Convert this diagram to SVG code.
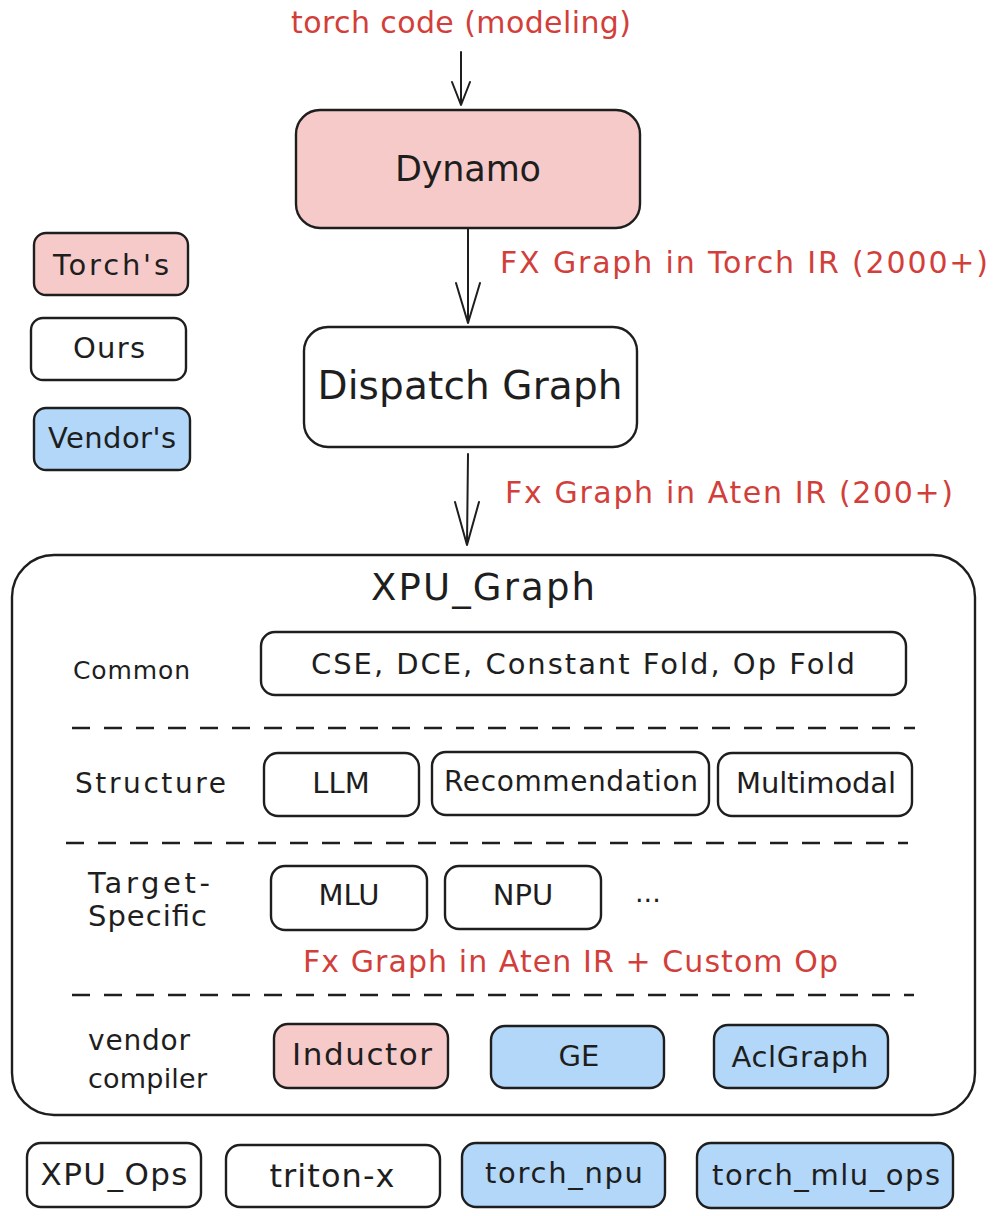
<svg xmlns="http://www.w3.org/2000/svg" width="998" height="1216" viewBox="0 0 998 1216">
<style>
.box{stroke:#1e1e1e;stroke-width:2.4;fill:#ffffff}
.pink{fill:#f7caca}
.blue{fill:#b2d7f9}
.t{font-family:"DejaVu Sans","Liberation Sans",sans-serif;fill:#1e1e1e}
.r{font-family:"DejaVu Sans","Liberation Sans",sans-serif;fill:#d23f3b}
.c{text-anchor:middle}
.ln{stroke:#1e1e1e;stroke-width:2;fill:none;stroke-linecap:round;stroke-linejoin:round}
.dash{stroke:#1e1e1e;stroke-width:2.5;fill:none;stroke-dasharray:18 14}
</style>
<rect width="998" height="1216" fill="#ffffff"/>

<text class="r" x="291" y="33" font-size="30" textLength="340">torch code (modeling)</text>

<g id="connectors">
  <path class="ln" d="M461,52 L461,104"/>
  <path class="ln" d="M452,82 L461,105 L470,82"/>
  <path class="ln" d="M468,229 L468,322"/>
  <path class="ln" d="M456,283 L468,323 L480,283"/>
  <path class="ln" d="M468,454 L467,544"/>
  <path class="ln" d="M455,502 L467,545 L479,502"/>
</g>
<text class="r" x="500" y="273" font-size="30" textLength="488">FX Graph in Torch IR (2000+)</text>
<text class="r" x="505" y="503" font-size="30" textLength="448">Fx Graph in Aten IR (200+)</text>

<g id="dynamo">
  <rect class="box pink" x="296" y="110" width="344" height="118" rx="24"/>
  <text class="t c" x="468" y="181" font-size="35" textLength="146">Dynamo</text>
</g>
<g id="dispatch-graph">
  <rect class="box" x="304" y="327" width="333" height="120" rx="24"/>
  <text class="t c" x="470" y="399" font-size="39" textLength="305">Dispatch Graph</text>
</g>

<g id="legend-torch">
  <rect class="box pink" x="34" y="233" width="154" height="62" rx="12"/>
  <text class="t c" x="111" y="275" font-size="29" textLength="116">Torch's</text>
</g>
<g id="legend-ours">
  <rect class="box" x="31" y="318" width="155" height="62" rx="12"/>
  <text class="t c" x="109" y="358" font-size="29" textLength="72">Ours</text>
</g>
<g id="legend-vendor">
  <rect class="box blue" x="34" y="408" width="156" height="62" rx="12"/>
  <text class="t c" x="112" y="448" font-size="29" textLength="128">Vendor's</text>
</g>

<g id="xpu-graph">
  <rect class="box" x="12" y="555" width="963" height="560" rx="42"/>
  <text class="t c" x="483" y="600" font-size="37" textLength="224">XPU_Graph</text>
</g>

<g id="layers">
  <text class="t" x="73" y="679" font-size="25" textLength="117">Common</text>
  <path class="dash" d="M72,728 L915,728"/>
  <text class="t" x="75" y="793" font-size="28" textLength="151">Structure</text>
  <path class="dash" d="M66,843 L908,843"/>
  <text class="t" x="88" y="893" font-size="29" textLength="122">Target-</text>
  <text class="t" x="88" y="926" font-size="29" textLength="119">Specific</text>
  <path class="dash" d="M72,995 L914,995"/>
  <text class="t" x="88" y="1050" font-size="28" textLength="102">vendor</text>
  <text class="t" x="88" y="1088" font-size="27" textLength="119">compiler</text>
</g>

<g id="common-passes">
  <rect class="box" x="261" y="632" width="645" height="63" rx="14"/>
  <text class="t c" x="583" y="674" font-size="29" textLength="544">CSE, DCE, Constant Fold, Op Fold</text>
</g>
<g id="llm">
  <rect class="box" x="264" y="753" width="155" height="63" rx="14"/>
  <text class="t c" x="341" y="793" font-size="29">LLM</text>
</g>
<g id="recommendation">
  <rect class="box" x="432" y="752" width="277" height="63" rx="14"/>
  <text class="t c" x="571" y="791" font-size="28" textLength="254">Recommendation</text>
</g>
<g id="multimodal">
  <rect class="box" x="718" y="753" width="194" height="63" rx="14"/>
  <text class="t c" x="816" y="793" font-size="29" textLength="160">Multimodal</text>
</g>
<g id="mlu">
  <rect class="box" x="271" y="866" width="156" height="64" rx="14"/>
  <text class="t c" x="349" y="905" font-size="29">MLU</text>
</g>
<g id="npu">
  <rect class="box" x="445" y="866" width="156" height="63" rx="14"/>
  <text class="t c" x="523" y="905" font-size="29">NPU</text>
</g>
<text class="t" x="635" y="902" font-size="27">...</text>
<text class="r" x="303" y="972" font-size="30" textLength="535">Fx Graph in Aten IR + Custom Op</text>

<g id="inductor">
  <rect class="box pink" x="274" y="1024" width="174" height="64" rx="14"/>
  <text class="t c" x="362" y="1065" font-size="31" textLength="140">Inductor</text>
</g>
<g id="ge">
  <rect class="box blue" x="491" y="1026" width="173" height="62" rx="14"/>
  <text class="t c" x="579" y="1066" font-size="29">GE</text>
</g>
<g id="aclgraph">
  <rect class="box blue" x="714" y="1025" width="174" height="63" rx="14"/>
  <text class="t c" x="800" y="1067" font-size="29" textLength="137">AclGraph</text>
</g>

<g id="xpu-ops">
  <rect class="box" x="27" y="1143" width="174" height="64" rx="14"/>
  <text class="t c" x="114" y="1185" font-size="31" textLength="147">XPU_Ops</text>
</g>
<g id="triton-x">
  <rect class="box" x="226" y="1145" width="214" height="62" rx="14"/>
  <text class="t c" x="332" y="1187" font-size="32" textLength="125">triton-x</text>
</g>
<g id="torch-npu">
  <rect class="box blue" x="462" y="1143" width="203" height="64" rx="14"/>
  <text class="t c" x="564" y="1183" font-size="29" textLength="158">torch_npu</text>
</g>
<g id="torch-mlu-ops">
  <rect class="box blue" x="697" y="1143" width="256" height="65" rx="14"/>
  <text class="t c" x="826" y="1185" font-size="29" textLength="228">torch_mlu_ops</text>
</g>
</svg>
